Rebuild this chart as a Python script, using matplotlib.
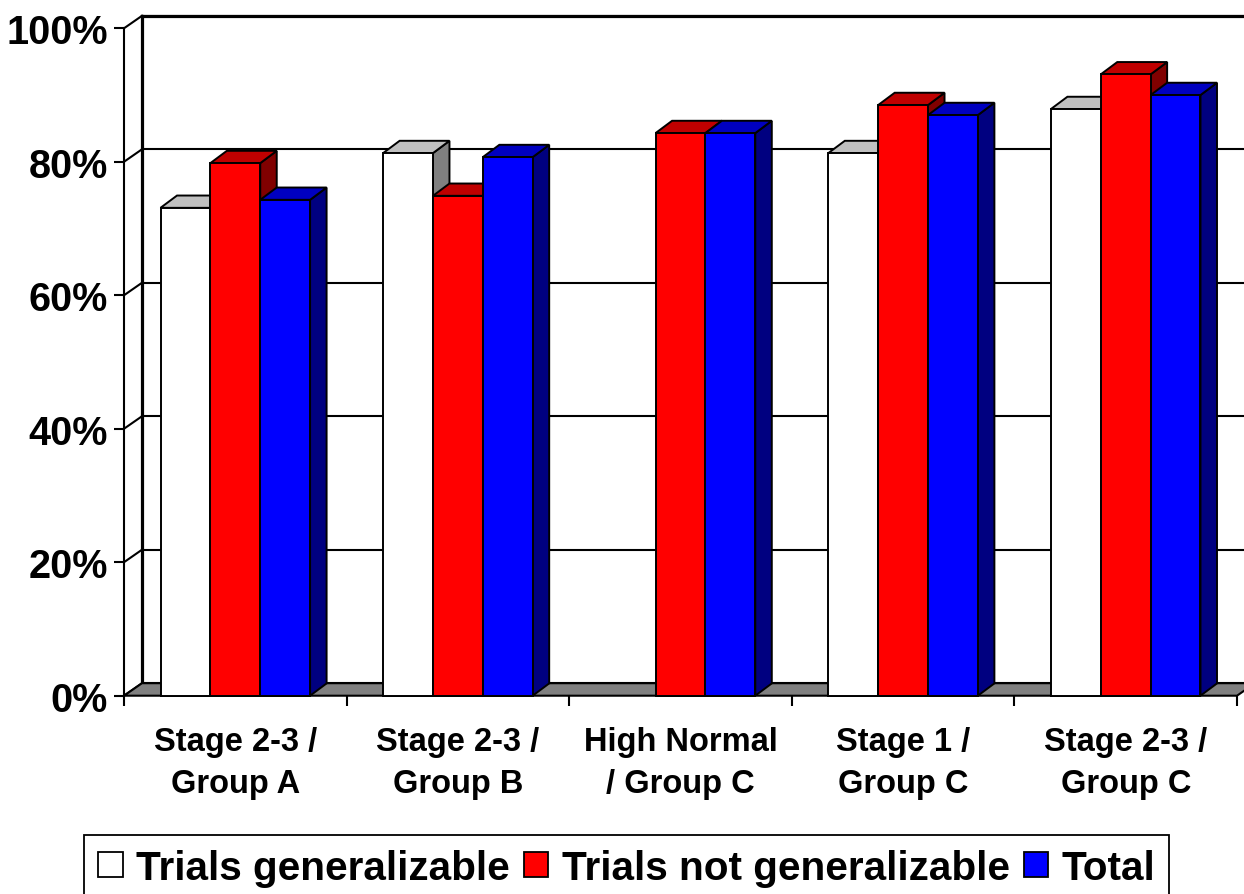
import matplotlib
matplotlib.use("Agg")
import matplotlib.pyplot as plt
from matplotlib.patches import Polygon, Patch
import numpy as np

plt.rcParams['font.family'] = ['Liberation Sans', 'DejaVu Sans']
plt.rcParams['font.weight'] = 'bold'

categories = ["Stage 2-3 /\nGroup A", "Stage 2-3 /\nGroup B", "High Normal\n/ Group C",
              "Stage 1 /\nGroup C", "Stage 2-3 /\nGroup C"]
series_names = ["Trials generalizable", "Trials not generalizable", "Total"]
trials_generalizable = [73.1, 81.3, 0.0, 81.3, 87.9]
trials_not_generalizable = [79.8, 74.9, 84.3, 88.5, 93.1]
total = [74.3, 80.7, 84.3, 87.0, 90.0]
yticks = [0, 20, 40, 60, 80, 100]
ytick_labels = ["0%", "20%", "40%", "60%", "80%", "100%"]

series = [trials_generalizable, trials_not_generalizable, total]
front_colors = ["#FFFFFF", "#FF0000", "#0000FF"]
top_colors = ["#C0C0C0", "#C00000", "#0000C0"]
side_colors = ["#808080", "#800000", "#000080"]

W, H = 1244, 895
fig = plt.figure(figsize=(W / 100, H / 100), dpi=100)
x0, x1 = 124, 1237
yb, yt = 696.7, 29.3
ax = fig.add_axes([x0 / W, 1 - yb / H, (x1 - x0) / W, (yb - yt) / H])
n = len(categories)
ax.set_xlim(0, n)
ax.set_ylim(0, 100)
for s in ax.spines.values():
    s.set_visible(False)

px_x = (x1 - x0) / n
px_y = (yb - yt) / 100.0
# wall depth offsets (data units)
dxw, dyw = 18 / px_x, 12.5 / px_y
# bar depth offsets
dxb, dyb = 16.5 / px_x, 12.3 / px_y

lw = 1.5
# back wall
ax.add_patch(Polygon([(dxw, dyw), (n + dxw, dyw), (n + dxw, 100 + dyw), (dxw, 100 + dyw)],
                     closed=True, facecolor="white", edgecolor="none", clip_on=False, zorder=1))
# side wall
ax.add_patch(Polygon([(0, 0), (dxw, dyw), (dxw, 100 + dyw), (0, 100)],
                     closed=True, facecolor="white", edgecolor="none", clip_on=False, zorder=1))
for v in yticks:
    ax.plot([dxw, n + dxw], [v + dyw, v + dyw], color="black", lw=lw, clip_on=False, zorder=2)
    ax.plot([0, dxw], [v, v + dyw], color="black", lw=lw, clip_on=False, zorder=2)
ax.plot([dxw, n + dxw], [100 + dyw, 100 + dyw], color="black", lw=2.3, clip_on=False, zorder=2)
ax.plot([dxw, dxw], [dyw, 100 + dyw], color="black", lw=2.3, clip_on=False, zorder=2)
ax.plot([0, 0], [0, 100], color="black", lw=lw, clip_on=False, zorder=2)
# floor
ax.add_patch(Polygon([(0, 0), (n, 0), (n + dxw, dyw), (dxw, dyw)], closed=True,
                     facecolor="#808080", edgecolor="black", lw=lw, clip_on=False, zorder=3))

# bars
bw = 0.224
z = 4
for i in range(n):
    for j, vals in enumerate(series):
        h = vals[i]
        if h <= 0:
            continue
        left = i + 0.5 + (j - 1.5) * bw
        right = left + bw
        side = [(right, 0), (right + dxb, dyb), (right + dxb, h + dyb), (right, h)]
        top = [(left, h), (right, h), (right + dxb, h + dyb), (left + dxb, h + dyb)]
        front = [(left, 0), (right, 0), (right, h), (left, h)]
        for poly, col in ((side, side_colors[j]), (top, top_colors[j]), (front, front_colors[j])):
            ax.add_patch(Polygon(poly, closed=True, facecolor=col, edgecolor="black",
                                 lw=1.4, joinstyle="miter", clip_on=False, zorder=z))
        z += 0.01

# ticks
ax.set_yticks(yticks)
ax.set_yticklabels(ytick_labels, fontsize=28.5, fontweight="bold")
ax.tick_params(axis="y", direction="out", length=7.2, width=1.5, pad=4.3)
ax.set_xticks(np.arange(n + 1))
ax.set_xticklabels([])
ax.tick_params(axis="x", which="major", direction="out", length=7.2, width=1.5)
ax.set_xticks(np.arange(n) + 0.5, minor=True)
ax.set_xticklabels(categories, minor=True, fontsize=23.5, fontweight="bold", linespacing=1.45)
ax.tick_params(axis="x", which="minor", length=0, pad=22)

handles = [Patch(facecolor=front_colors[k], edgecolor="black", lw=1.3) for k in range(3)]
leg = fig.legend(handles, series_names, loc="upper left", bbox_to_anchor=(84 / W, 1 - 835.7 / H),
                 ncol=3, prop={"weight": "bold", "size": 29.2}, frameon=True, fancybox=False,
                 edgecolor="black", framealpha=1, borderaxespad=0, borderpad=0.35,
                 handlelength=0.6, handleheight=0.6, handletextpad=0.33, columnspacing=0.35)
leg.get_frame().set_linewidth(1.3)

fig.savefig("out.png", dpi=100)
